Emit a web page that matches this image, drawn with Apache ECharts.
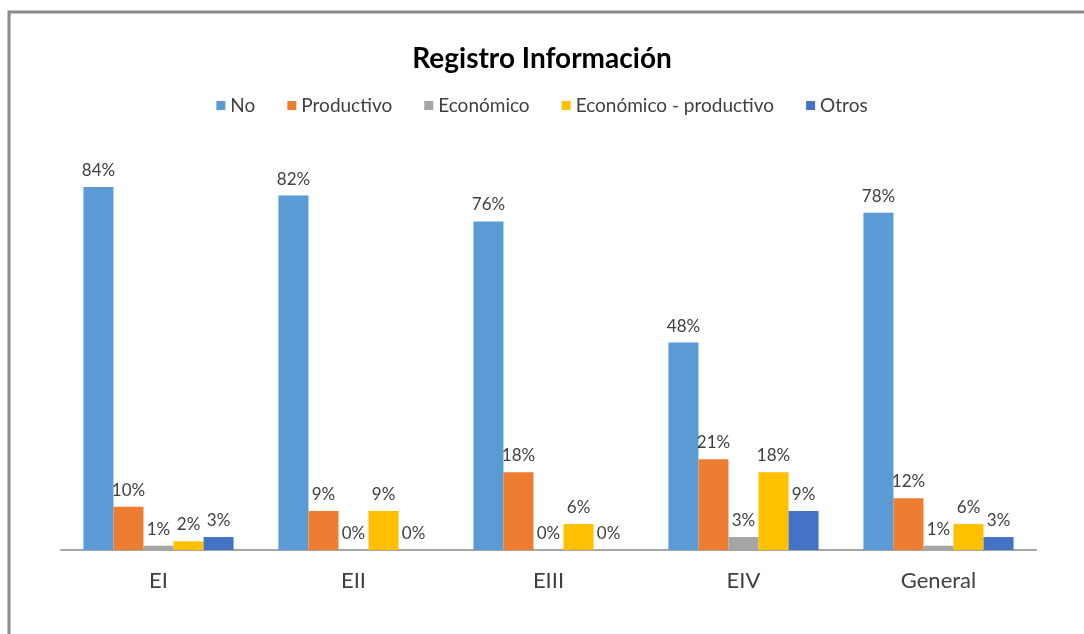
<!DOCTYPE html>
<html>
<head>
<meta charset="utf-8">
<script src="https://cdn.jsdelivr.net/npm/echarts@6/dist/echarts.min.js"></script>
<style>
  html, body { margin: 0; padding: 0; background: #fff; }
  #chart { width: 1084px; height: 634px; }
</style>
</head>
<body>
<div id="chart"></div>
<script>
const categories = ["EI", "EII", "EIII", "EIV", "General"];
const seriesNames = ["No", "Productivo", "Económico", "Económico - productivo", "Otros"];
const noValues = [84, 82, 76, 48, 78];
const productivoValues = [10, 9, 18, 21, 12];
const economicoValues = [1, 0, 0, 3, 1];
const ecoProdValues = [2, 9, 6, 18, 6];
const otrosValues = [3, 0, 0, 9, 3];

const colors = ["#5B9BD5", "#ED7D31", "#A5A5A5", "#FFC000", "#4472C4"];
const allValues = [noValues, productivoValues, economicoValues, ecoProdValues, otrosValues];

const font = "Lato, 'Open Sans', sans-serif";

const myChart = echarts.init(document.getElementById("chart"));

const option = {
  backgroundColor: "#fff",
  animation: false,
  title: {
    text: "Registro Información",
    left: "center",
    top: 40,
    textStyle: { fontFamily: font, fontSize: 28, fontWeight: "bold", color: "#000" },
  },
  legend: {
    top: 91,
    left: "center",
    itemWidth: 9,
    itemHeight: 9,
    itemGap: 32,
    icon: "rect",
    textStyle: { fontFamily: font, fontSize: 19, color: "#404040" },
    data: seriesNames,
  },
  graphic: [
    {
      type: "rect",
      shape: { x: 9, y: 12, width: 1200, height: 800 },
      style: { fill: "none", stroke: "#8a8a8a", lineWidth: 3 },
      silent: true,
    },
  ],
  grid: { left: 61, right: 48, top: 161, bottom: 84 },
  xAxis: {
    type: "category",
    data: categories,
    axisTick: { show: false },
    axisLine: { lineStyle: { color: "#a6a6a6", width: 2 } },
    axisLabel: { fontFamily: font, fontSize: 22, color: "#404040", margin: 20 },
  },
  yAxis: {
    type: "value",
    min: 0,
    max: 90,
    show: false,
    splitLine: { show: false },
  },
  series: seriesNames.map((name, i) => ({
    name: name,
    type: "bar",
    data: allValues[i],
    barGap: "0%",
    barCategoryGap: "23%",
    itemStyle: { color: colors[i] },
    label: {
      show: true,
      position: "top",
      distance: 8,
      formatter: (p) => p.value + "%",
      fontFamily: font,
      fontSize: 17,
      color: "#404040",
    },
  })),
};

option && myChart.setOption(option);
</script>
</body>
</html>
